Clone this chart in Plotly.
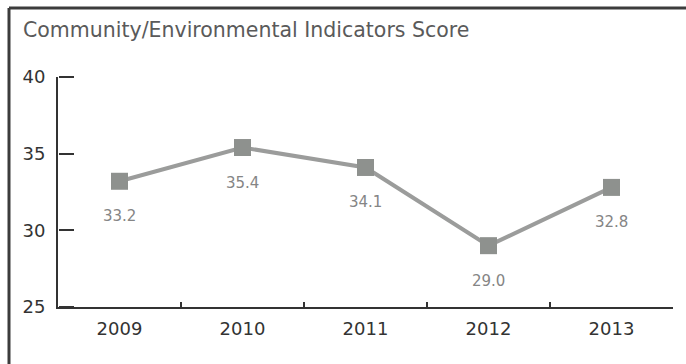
import plotly.graph_objects as go

# Score series
years = ["2009", "2010", "2011", "2012", "2013"]
scores = [33.2, 35.4, 34.1, 29.0, 32.8]
y_ticks = [25, 30, 35, 40]
y_range = [25, 40]
title_text = "Community/Environmental Indicators Score"

W, H = 686, 364
FONT = "DejaVu Sans"
AXIS_X = 58 / W

fig = go.Figure()

fig.add_trace(go.Scatter(
    x=years,
    y=scores,
    mode="lines+markers",
    line=dict(color="#9b9c9b", width=4),
    marker=dict(symbol="square", size=17, color="#8e918e"),
    hoverinfo="x+y",
    showlegend=False,
))

# Same series bound to the tick-carrying companion axis (drawn invisibly)
fig.add_trace(go.Scatter(
    x=years,
    y=scores,
    yaxis="y2",
    mode="markers",
    marker=dict(opacity=0),
    hoverinfo="skip",
    showlegend=False,
))

# Value labels below each point (category axis: position by index)
for i, v in enumerate(scores):
    fig.add_annotation(
        x=i, y=v, xref="x", yref="y",
        text=f"{v:.1f}", showarrow=False,
        yshift=-35,
        font=dict(family=FONT, size=15, color="#858585"),
    )

# Chart title
fig.add_annotation(
    x=21 / W, y=1 - 30 / H, xref="paper", yref="paper",
    xanchor="left", yanchor="middle",
    text=title_text, showarrow=False,
    font=dict(family=FONT, size=20.5, color="#5a5a5a"),
)

# Panel frame (left and top edges)
fig.add_shape(type="line", xref="paper", yref="paper",
              x0=9 / W, x1=9 / W, y0=0, y1=1 - 8 / H,
              line=dict(color="#3c3c3c", width=3))
fig.add_shape(type="line", xref="paper", yref="paper",
              x0=9 / W, x1=1, y0=1 - 8 / H, y1=1 - 8 / H,
              line=dict(color="#3c3c3c", width=3))

y_domain = [(H - 307) / H, (H - 77) / H]

fig.update_layout(
    width=W, height=H,
    margin=dict(l=0, r=0, t=0, b=0, pad=0, autoexpand=False),
    paper_bgcolor="white",
    plot_bgcolor="white",
    xaxis=dict(
        domain=[AXIS_X, 673 / W],
        type="category",
        range=[-0.5, 4.5],
        automargin=False,
        showline=True, linecolor="#333333", linewidth=2,
        ticks="inside", tickson="boundaries", ticklen=5, tickwidth=2, tickcolor="#333333",
        showgrid=False, zeroline=False,
        tickfont=dict(family=FONT, size=18, color="#333333"),
        ticklabelstandoff=4,
    ),
    # Left value axis: line and labels
    yaxis=dict(
        domain=y_domain,
        range=y_range,
        tickmode="array",
        tickvals=y_ticks,
        automargin=False,
        showline=True, linecolor="#333333", linewidth=2,
        ticks="",
        showgrid=False, zeroline=False,
        tickfont=dict(family=FONT, size=18, color="#333333"),
        ticklabelstandoff=7,
    ),
    # Companion axis at the same position carrying the right-pointing ticks
    yaxis2=dict(
        domain=y_domain,
        range=y_range,
        overlaying="y",
        anchor="free",
        position=AXIS_X,
        side="right",
        tickmode="array",
        tickvals=y_ticks,
        automargin=False,
        showline=False,
        ticks="outside", ticklen=15, tickwidth=2, tickcolor="#333333",
        showticklabels=False,
        showgrid=False, zeroline=False,
    ),
)

fig.write_html("out.html")
